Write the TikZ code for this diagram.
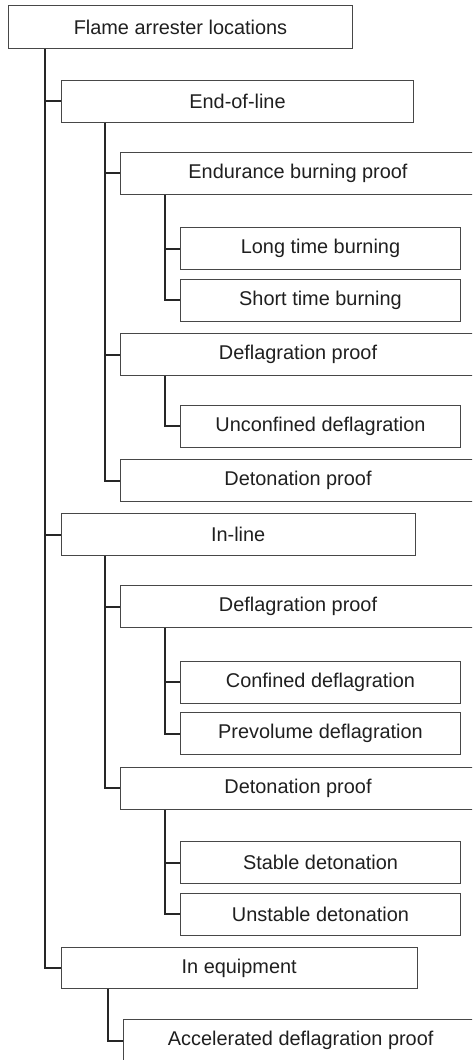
\documentclass[tikz,border=0pt]{standalone}
\usepackage{fontspec}
\setmainfont{Liberation Sans}
\begin{document}
\begin{tikzpicture}[x=1pt,y=-1pt,
  box/.style={draw=black!72, line width=1pt, rectangle, anchor=north west, inner sep=0pt,
    text=black!88, font=\fontsize{19.9}{24}\selectfont},
  link/.style={draw=black!85, line width=2pt}]
\useasboundingbox (0,0) rectangle (472,1060);
\clip (0,0) rectangle (472,1060);
\newcommand{\bx}[6]{\node[box, minimum width=#4, minimum height=#5] (#1) at (#2,#3) {#6};}
\bx{root}{8}{5}{344}{43}{Flame arrester locations}
\bx{eol}{60.7}{80}{352.6}{41.7}{End-of-line}
\bx{endur}{120}{151.7}{355}{42.3}{Endurance burning proof}
\bx{long}{180}{227.3}{280}{42}{Long time burning}
\bx{short}{180}{278.7}{280}{42}{Short time burning}
\bx{defa}{120}{333.3}{355}{41.7}{Deflagration proof}
\bx{unconf}{180}{404.7}{280}{42}{Unconfined deflagration}
\bx{deta}{120}{459.3}{355}{41.7}{Detonation proof}
\bx{inl}{60.7}{513.3}{354}{42}{In-line}
\bx{defb}{120}{585}{355}{42.3}{Deflagration proof}
\bx{conf}{180}{660.7}{280}{42}{Confined deflagration}
\bx{prevol}{180}{712.3}{280}{42}{Prevolume deflagration}
\bx{detb}{120}{766.7}{355}{42.3}{Detonation proof}
\bx{stable}{180}{841.3}{280}{42}{Stable detonation}
\bx{unstable}{180}{892.7}{280}{42}{Unstable detonation}
\bx{inequip}{60.7}{946.7}{356}{41.6}{In equipment}
\bx{accel}{122.7}{1019}{355}{42}{Accelerated deflagration proof}
% connectors
\draw[link] ([xshift=37pt]root.south west) |- (eol.west);
\draw[link] ([xshift=37pt]root.south west) |- (inl.west);
\draw[link] ([xshift=37pt]root.south west) |- (inequip.west);
\draw[link] ([xshift=44.3pt]eol.south west) |- (endur.west);
\draw[link] ([xshift=44.3pt]eol.south west) |- (defa.west);
\draw[link] ([xshift=44.3pt]eol.south west) |- (deta.west);
\draw[link] ([xshift=45pt]endur.south west) |- (long.west);
\draw[link] ([xshift=45pt]endur.south west) |- (short.west);
\draw[link] ([xshift=45pt]defa.south west) |- (unconf.west);
\draw[link] ([xshift=44.3pt]inl.south west) |- (defb.west);
\draw[link] ([xshift=44.3pt]inl.south west) |- (detb.west);
\draw[link] ([xshift=45pt]defb.south west) |- (conf.west);
\draw[link] ([xshift=45pt]defb.south west) |- (prevol.west);
\draw[link] ([xshift=45pt]detb.south west) |- (stable.west);
\draw[link] ([xshift=45pt]detb.south west) |- (unstable.west);
\draw[link] ([xshift=47.6pt]inequip.south west) |- (accel.west);
\end{tikzpicture}
\end{document}
